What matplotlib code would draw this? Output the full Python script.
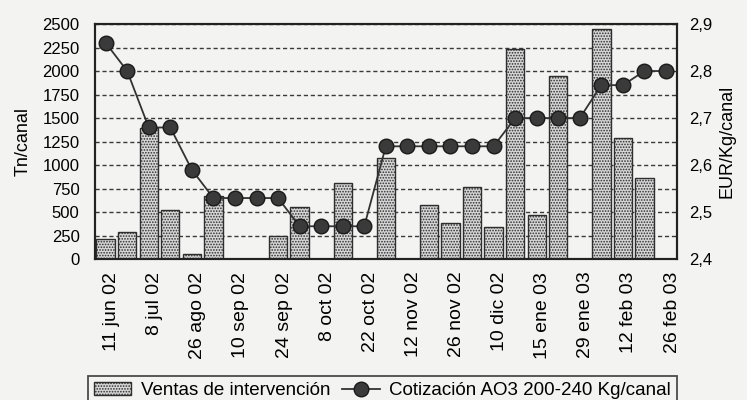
import numpy as np
import matplotlib
matplotlib.use("Agg")
import matplotlib.pyplot as plt
from matplotlib.ticker import FuncFormatter
from matplotlib.transforms import ScaledTranslation

plt.rcParams['font.family'] = ['Liberation Sans', 'DejaVu Sans']
plt.rcParams['hatch.linewidth'] = 0.8

# fechas (una cada dos se rotula)
fechas = ['11 jun 02', '25 jun 02', '8 jul 02', '22 jul 02', '26 ago 02', '3 sep 02',
          '10 sep 02', '17 sep 02', '24 sep 02', '1 oct 02', '8 oct 02', '15 oct 02',
          '22 oct 02', '29 oct 02', '12 nov 02', '19 nov 02', '26 nov 02', '3 dic 02',
          '10 dic 02', '8 ene 03', '15 ene 03', '22 ene 03', '29 ene 03', '5 feb 03',
          '12 feb 03', '19 feb 03', '26 feb 03']

# Ventas de intervencion (Tn/canal)
ventas = [210, 290, 1390, 525, 50, 670, 0, 0, 250, 550, 0, 810, 0, 1080,
          0, 580, 380, 770, 340, 2230, 470, 1950, 0, 2450, 1290, 860, 0]

# Cotizacion AO3 200-240 Kg/canal (EUR/Kg/canal)
cotizacion = [2.86, 2.80, 2.68, 2.68, 2.59, 2.53, 2.53, 2.53, 2.53, 2.47, 2.47, 2.47,
              2.47, 2.64, 2.64, 2.64, 2.64, 2.64, 2.64, 2.70, 2.70, 2.70, 2.70, 2.77,
              2.77, 2.80, 2.80]

x = np.arange(len(fechas))
bg = '#f3f3f1'

fig = plt.figure(figsize=(7.47, 4.0), dpi=100, facecolor=bg)
ax = fig.add_axes([0.127, 0.352, 0.779, 0.588], facecolor=bg)

bars = ax.bar(x, ventas, width=0.85, color='#d6d6d6', edgecolor='#2e2e2e',
              hatch='......', linewidth=1.0, zorder=2, label='Ventas de intervención')

ax.set_xlim(-0.5, 26.5)
ax.set_ylim(0, 2500)
ax.set_yticks(np.arange(0, 2501, 250))
ax.yaxis.grid(True, linestyle=(0, (3, 2)), color='#3a3a3a', linewidth=1.0, zorder=1)
ax.tick_params(axis='y', length=0, pad=11, labelsize=12)
ax.set_xticks(x[::2])
ax.set_xticklabels(fechas[::2], rotation=90, fontsize=14)
ax.tick_params(axis='x', length=0, pad=9)
for lbl in ax.get_xticklabels():
    lbl.set_transform(lbl.get_transform() + ScaledTranslation(0.06, 0, fig.dpi_scale_trans))
ax.set_ylabel('Tn/canal', fontsize=13, labelpad=8)
for s in ax.spines.values():
    s.set_linewidth(1.5)
    s.set_color('#222222')

ax2 = ax.twinx()
linea, = ax2.plot(x, cotizacion, color='#333333', linewidth=1.3, marker='o',
                  markersize=10.5, markerfacecolor='#3a3a3a', markeredgecolor='#1a1a1a',
                  zorder=3, label='Cotización AO3 200-240 Kg/canal')
ax2.set_ylim(2.4, 2.9)
ax2.set_yticks([2.4, 2.5, 2.6, 2.7, 2.8, 2.9])
ax2.yaxis.set_major_formatter(FuncFormatter(lambda v, p: f'{v:.1f}'.replace('.', ',')))
ax2.tick_params(axis='y', length=0, pad=9, labelsize=12)
ax2.set_ylabel('EUR/Kg/canal', fontsize=13, labelpad=4)
for s in ax2.spines.values():
    s.set_linewidth(1.5)
    s.set_color('#222222')

leg = fig.legend([bars, linea], ['Ventas de intervención', 'Cotización AO3 200-240 Kg/canal'],
                 loc='lower left', bbox_to_anchor=(0.118, -0.012), ncol=2, fontsize=13.5,
                 frameon=True, fancybox=False, edgecolor='#222222', facecolor=bg,
                 handlelength=2.0, handletextpad=0.5, columnspacing=0.65,
                 borderpad=0.3, borderaxespad=0.0)
leg.get_frame().set_linewidth(1.3)

fig.savefig('out.png', dpi=100, facecolor=bg)
